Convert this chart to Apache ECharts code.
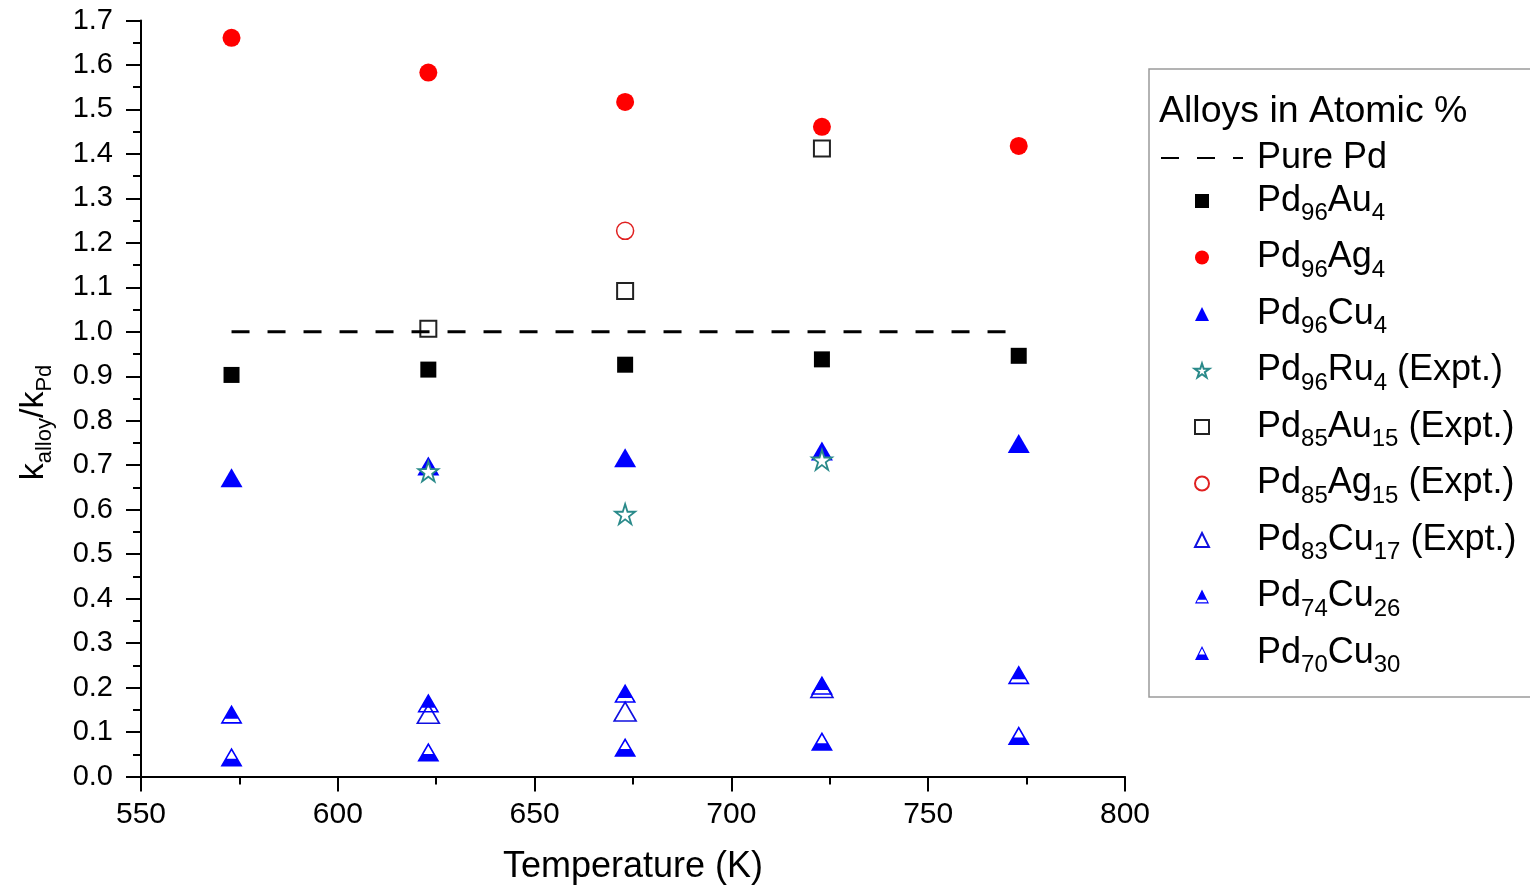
<!DOCTYPE html>
<html><head><meta charset="utf-8">
<script src="https://cdn.jsdelivr.net/npm/echarts@6/dist/echarts.min.js"></script>
<style>html,body{margin:0;padding:0;background:#fff}#c{width:1530px;height:887px}</style>
</head><body><div id="c"></div>
<script>
// ---- data ----
const temps = [573, 623, 673, 723, 773];
const purePdX = [573, 773];
const purePdY = [1.0, 1.0];
const pd96au4 = [0.903, 0.915, 0.926, 0.938, 0.946];
const pd96ag4 = [1.661, 1.583, 1.517, 1.461, 1.418];
const pd96cu4 = [0.672, 0.698, 0.717, 0.732, 0.749];
const exptTemps = [623, 673, 723];
const pd96ru4 = [0.686, 0.590, 0.712];
const pd85au15 = [1.007, 1.092, 1.412];
const pd85ag15Temps = [673];
const pd85ag15 = [1.227];
const pd83cu17 = [0.141, 0.146, 0.199];
const pd74cu26 = [0.140, 0.165, 0.187, 0.205, 0.229];
const pd70cu30 = [0.044, 0.055, 0.066, 0.079, 0.092];

const seriesNames = ['Pure Pd', 'Pd96Au4', 'Pd96Ag4', 'Pd96Cu4', 'Pd96Ru4 (Expt.)',
  'Pd85Au15 (Expt.)', 'Pd85Ag15 (Expt.)', 'Pd83Cu17 (Expt.)', 'Pd74Cu26', 'Pd70Cu30'];
const legendLabels = ['Pure Pd', 'Pd{s|96}Au{s|4}', 'Pd{s|96}Ag{s|4}', 'Pd{s|96}Cu{s|4}',
  'Pd{s|96}Ru{s|4} (Expt.)', 'Pd{s|85}Au{s|15} (Expt.)', 'Pd{s|85}Ag{s|15} (Expt.)',
  'Pd{s|83}Cu{s|17} (Expt.)', 'Pd{s|74}Cu{s|26}', 'Pd{s|70}Cu{s|30}'];
const legendTitle = 'Alloys in Atomic %';
const xTitle = 'Temperature (K)';
const yTitle = '{m|k}{s|alloy}{m|/k}{s|Pd}';

// ---- symbols ----
const SQUARE = 'path://M0 0L100 0L100 100L0 100Z';
const TRI = 'path://M50 0L100 100L0 100Z';
const TRI_TOP_FILLED = 'path://M50 0L100 100L0 100ZM21 74L12.5 91L87.5 91L79 74Z';
const TRI_BOTTOM_FILLED = 'path://M50 0L100 100L0 100ZM50 17L28.5 60L71.5 60Z';
const STAR = 'path://M50 0L61.23 34.55L97.55 34.55L68.17 55.9L79.39 90.45L50 69.1L20.61 90.45L31.83 55.9L2.45 34.55L38.77 34.55Z';

const pairs = (xs, ys) => xs.map((x, i) => [x, ys[i]]);
const FONT = "'Liberation Sans', Arial, sans-serif";

const chart = echarts.init(document.getElementById('c'), null, {renderer: 'canvas'});

const option = {
  backgroundColor: '#ffffff',
  animation: false,
  grid: {left: 141, right: 405, top: 20.5, bottom: 110.5, containLabel: false, outerBoundsMode: 'none'},
  xAxis: {
    type: 'value', min: 550, max: 800, interval: 50,
    name: xTitle, nameLocation: 'middle', nameGap: 73,
    nameTextStyle: {fontSize: 36, fontFamily: FONT, color: '#000'},
    axisLine: {onZero: false, lineStyle: {color: '#000', width: 2}},
    axisTick: {inside: false, length: 15, lineStyle: {color: '#000', width: 2}},
    minorTick: {show: true, splitNumber: 2, length: 8, lineStyle: {color: '#000', width: 2}},
    axisLabel: {fontSize: 30, fontFamily: FONT, color: '#000', margin: 23},
    splitLine: {show: false}
  },
  yAxis: {
    type: 'value', min: 0, max: 1.7, interval: 0.1,
    name: yTitle, nameLocation: 'middle', nameGap: 90,
    nameTextStyle: {fontSize: 34, fontFamily: FONT, color: '#000', lineHeight: 34,
      padding: [0, 48, 0, 0],
      rich: {m: {fontSize: 34, lineHeight: 34}, s: {fontSize: 22, lineHeight: 22, padding: [22, 0, 0, 0]}}},
    axisLine: {lineStyle: {color: '#000', width: 2}},
    axisTick: {inside: false, length: 15, lineStyle: {color: '#000', width: 2}},
    minorTick: {show: true, splitNumber: 2, length: 8, lineStyle: {color: '#000', width: 2}},
    axisLabel: {fontSize: 29, fontFamily: FONT, color: '#000', margin: 28,
      formatter: v => v.toFixed(1)},
    splitLine: {show: false}
  },
  legend: {
    orient: 'vertical', left: 1160, top: 140, padding: 0,
    itemWidth: 82, itemHeight: 14, itemGap: -6.5,
    data: seriesNames.map((n, i) => i === 0 ? {name: n, itemStyle: {opacity: 0}} : n),
    formatter: name => legendLabels[seriesNames.indexOf(name)],
    textStyle: {fontSize: 36, fontFamily: FONT, color: '#000', padding: [0, 0, 0, 9],
      rich: {s: {fontSize: 24, lineHeight: 24, padding: [32, 0, 7, 0]}}}
  },
  graphic: [
    {type: 'rect', shape: {x: 1149, y: 69, width: 420, height: 628},
      style: {fill: 'none', stroke: '#9a9a9a', lineWidth: 1.5}, silent: true},
    {type: 'text', x: 1159, y: 112,
      style: {text: legendTitle, fontSize: 37.5, fontFamily: FONT, fill: '#000', verticalAlign: 'middle', align: 'left'}}
  ],
  series: [
    {name: seriesNames[0], type: 'line', data: pairs(purePdX, purePdY), symbol: 'none',
      lineStyle: {color: '#000', width: 3, type: [18, 18]}, itemStyle: {color: '#000'}},
    {name: seriesNames[1], type: 'scatter', data: pairs(temps, pd96au4), symbol: SQUARE, symbolSize: 16,
      itemStyle: {color: '#000', opacity: 1}},
    {name: seriesNames[2], type: 'scatter', data: pairs(temps, pd96ag4), symbol: 'circle', symbolSize: 18,
      itemStyle: {color: '#ff0000', opacity: 1}},
    {name: seriesNames[3], type: 'scatter', data: pairs(temps, pd96cu4), symbol: TRI, symbolSize: [22, 19],
      itemStyle: {color: '#0000ff', opacity: 1}},
    {name: seriesNames[4], type: 'scatter', data: pairs(exptTemps, pd96ru4), symbol: STAR, symbolSize: 20,
      itemStyle: {color: '#ffffff', borderColor: '#2a8a8a', borderWidth: 1.8, opacity: 1}},
    {name: seriesNames[5], type: 'scatter', data: pairs(exptTemps, pd85au15), symbol: SQUARE, symbolSize: 16,
      itemStyle: {color: 'rgba(255,255,255,0)', borderColor: '#222', borderWidth: 2, opacity: 1}},
    {name: seriesNames[6], type: 'scatter', data: pairs(pd85ag15Temps, pd85ag15), symbol: 'circle', symbolSize: 17,
      itemStyle: {color: '#ffffff', borderColor: '#e02020', borderWidth: 1.5, opacity: 1}},
    {name: seriesNames[7], type: 'scatter', data: pairs(exptTemps, pd83cu17), symbol: TRI, symbolSize: [22, 19],
      itemStyle: {color: '#ffffff', borderColor: '#1010e0', borderWidth: 1.6, opacity: 1}},
    {name: seriesNames[8], type: 'scatter', data: pairs(temps, pd74cu26), symbol: TRI_TOP_FILLED, symbolSize: [22, 19],
      itemStyle: {color: '#0000ff', opacity: 1}},
    {name: seriesNames[9], type: 'scatter', data: pairs(temps, pd70cu30), symbol: TRI_BOTTOM_FILLED, symbolSize: [22, 19],
      itemStyle: {color: '#0000ff', opacity: 1}}
  ]
};
chart.setOption(option);
</script>
</body></html>
